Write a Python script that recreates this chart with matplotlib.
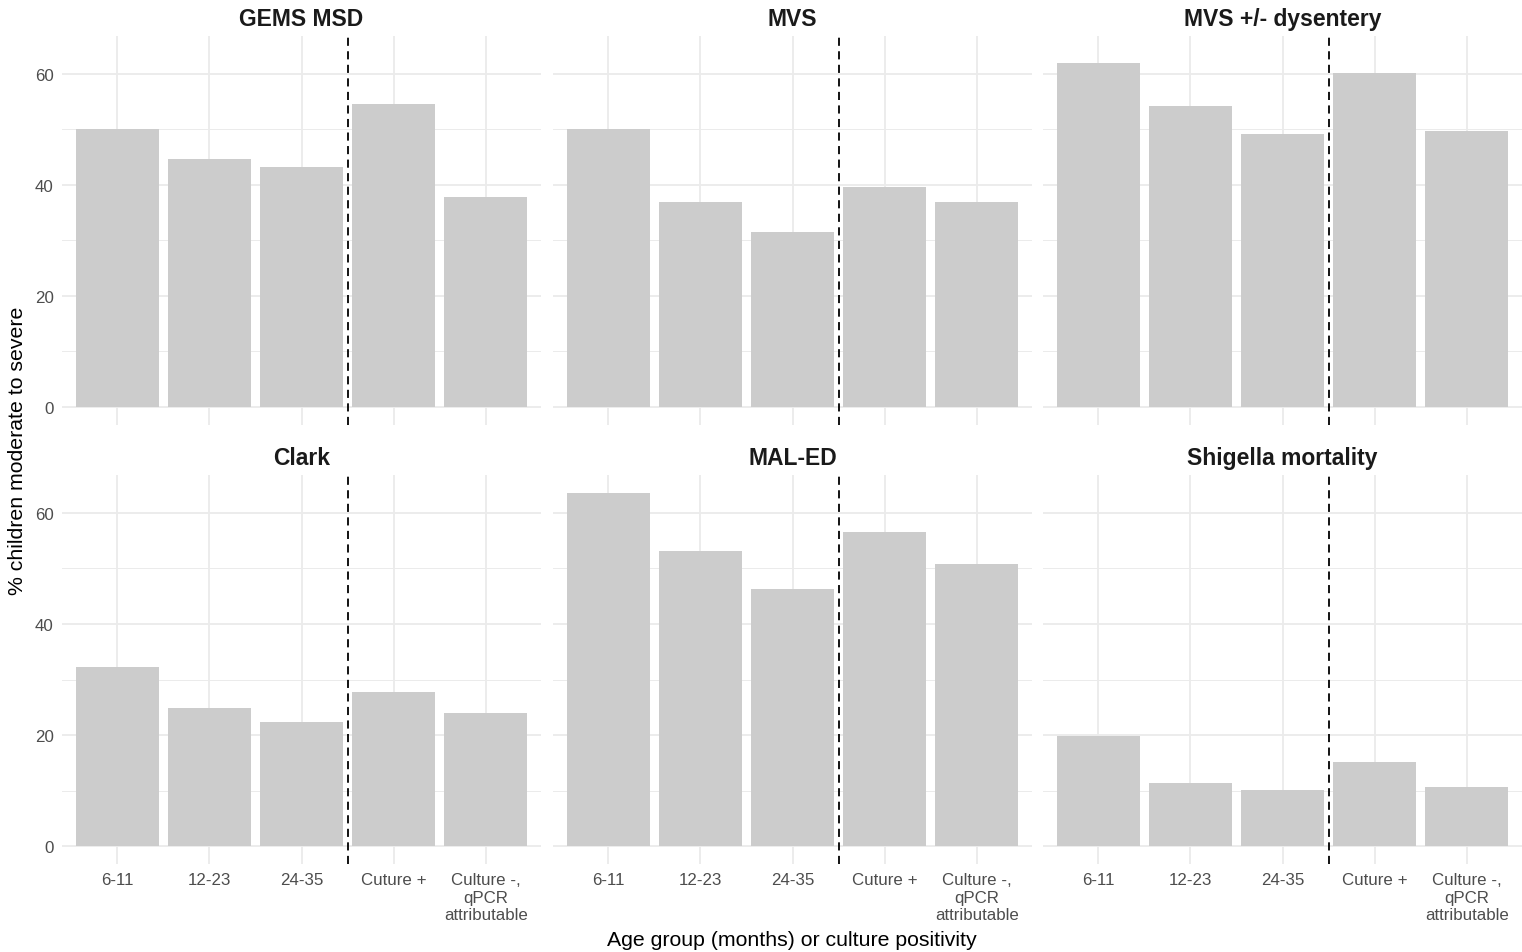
import matplotlib
matplotlib.use("Agg")
import matplotlib.pyplot as plt
import numpy as np

plt.rcParams['font.family'] = ['Liberation Sans', 'DejaVu Sans']

# data
categories = ["6-11", "12-23", "24-35", "Cuture +", "Culture -,\nqPCR\nattributable"]
studies = ["GEMS MSD", "MVS", "MVS +/- dysentery", "Clark", "MAL-ED", "Shigella mortality"]
gems_msd = [50.0, 44.7, 43.1, 54.6, 37.8]
mvs = [50.0, 36.8, 31.5, 39.6, 36.8]
mvs_dys = [62.0, 54.2, 49.2, 60.2, 49.7]
clark = [32.3, 24.8, 22.3, 27.8, 23.9]
mal_ed = [63.6, 53.1, 46.3, 56.6, 50.8]
shigella_mort = [19.9, 11.3, 10.1, 15.1, 10.6]
all_values = [gems_msd, mvs, mvs_dys, clark, mal_ed, shigella_mort]

W, H = 1522, 953
fig = plt.figure(figsize=(W / 100, H / 100), dpi=100)

ymax = max(max(v) for v in all_values)
ylo, yhi = -0.05 * ymax, 1.05 * ymax

col_x = [62, 553, 1043]
pw = 479
row_y = [(37, 425.5), (476, 865)]
x = np.arange(1, len(categories) + 1)

grid_col = "#EBEBEB"
for i, (name, vals) in enumerate(zip(studies, all_values)):
    r, c = divmod(i, 3)
    top, bot = row_y[r]
    ax = fig.add_axes([col_x[c] / W, 1 - bot / H, pw / W, (bot - top) / H])
    ax.set_xlim(0.4, len(categories) + 0.6)
    ax.set_ylim(ylo, yhi)
    for s in ax.spines.values():
        s.set_visible(False)
    # grid
    for yy in [10, 30, 50]:
        ax.axhline(yy, color=grid_col, lw=0.7, zorder=0)
    for yy in [0, 20, 40, 60]:
        ax.axhline(yy, color=grid_col, lw=1.3, zorder=0)
    for xx in x:
        ax.axvline(xx, color=grid_col, lw=1.3, zorder=0)
    ax.bar(x, vals, width=0.9, color="#CCCCCC", zorder=2)
    ax.axvline(3.5, color="black", lw=1.3, ls=(0, (4.5, 3)), zorder=3)
    ax.set_title(name, fontsize=16.5, fontweight="bold", color="#1A1A1A", pad=8)
    ax.tick_params(length=0, labelsize=12.2, labelcolor="#4D4D4D", pad=6)
    ax.set_yticks([0, 20, 40, 60])
    if c != 0:
        ax.set_yticklabels([])
    ax.set_xticks(x)
    if r == 1:
        ax.set_xticklabels(categories, linespacing=1.2)
    else:
        ax.set_xticklabels([])

fig.text(18 / W, 1 - 451 / H, "% children moderate to severe", rotation=90,
         ha="center", va="center", fontsize=15.3)
fig.text(792 / W, 1 - 941 / H, "Age group (months) or culture positivity",
         ha="center", va="center", fontsize=15.3)

fig.savefig("out.png", dpi=100, facecolor="white")
